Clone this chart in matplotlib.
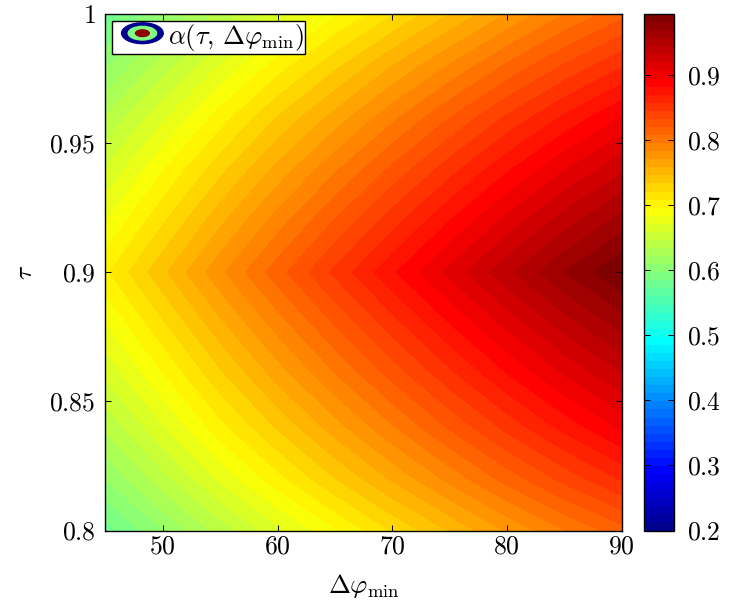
import numpy as np
import matplotlib
matplotlib.use("Agg")
import matplotlib.pyplot as plt
from matplotlib.colors import LinearSegmentedColormap
from matplotlib.patches import Ellipse, Patch

plt.rcParams["mathtext.fontset"] = "cm"
plt.rcParams["font.family"] = "serif"
plt.rcParams["font.serif"] = ["cmr10"]
plt.rcParams["axes.formatter.use_mathtext"] = True

phi_min = [45, 50, 55, 60, 65, 70, 75, 80, 85, 90]
tau = [0.80, 0.82, 0.84, 0.86, 0.88, 0.90, 0.92, 0.94, 0.96, 0.98, 1.00]
alpha = [
    [.579, .609, .640, .668, .695, .722, .747, .772, .795, .815],
    [.610, .642, .674, .704, .733, .760, .787, .813, .837, .859],
    [.637, .670, .704, .735, .765, .794, .822, .849, .874, .897],
    [.661, .695, .730, .763, .794, .824, .853, .881, .907, .930],
    [.683, .719, .755, .789, .821, .852, .882, .911, .938, .962],
    [.706, .743, .780, .815, .848, .880, .911, .941, .969, .994],
    [.683, .719, .755, .789, .821, .852, .882, .911, .938, .962],
    [.660, .695, .729, .762, .793, .823, .852, .880, .906, .929],
    [.635, .669, .702, .734, .763, .792, .820, .847, .872, .895],
    [.608, .640, .672, .702, .730, .758, .784, .810, .834, .856],
    [.577, .607, .637, .666, .694, .720, .746, .771, .795, .816],
]
x_ticks = [50, 60, 70, 80, 90]
y_ticks = [0.8, 0.85, 0.9, 0.95, 1]
y_labels = ["0.8", "0.85", "0.9", "0.95", "1"]
cbar_ticks = [0.2, 0.3, 0.4, 0.5, 0.6, 0.7, 0.8, 0.9]

W, H = 729, 606
FS = 18.5

# matlab style jet, 64 steps
jet = LinearSegmentedColormap.from_list(
    "matlab_jet",
    [(0, (0, 0, 0.5625)), (0.11, (0, 0, 1)), (0.365, (0, 1, 1)),
     (0.625, (1, 1, 0)), (0.875, (1, 0, 0)), (1, (0.5, 0, 0))],
    N=64,
)


class ContourHandler:
    def legend_artist(self, legend, orig, fontsize, box):
        cx = box.xdescent + box.width / 2 + 3
        cy = box.ydescent + box.height / 2 + 1
        for w, h, c in [(31, 16, "#00008f"), (21.5, 10.8, "#80ff80"), (11, 5.8, "#8f0000")]:
            box.add_artist(Ellipse((cx, cy), w, h, fc=c, ec="none", transform=box.get_transform()))
        return Patch(visible=False)


fig = plt.figure(figsize=(W / 100, H / 100), dpi=100)
ax = fig.add_axes([105.5 / W, 1 - 530.5 / H, 516 / W, 516.5 / H])
cax = fig.add_axes([644 / W, 1 - 530.5 / H, 29.5 / W, 516.5 / H])

levels = np.linspace(0.2, 0.994, 65)
cs = ax.contourf(phi_min, tau, alpha, levels=levels, cmap=jet)

ax.set_xlim(45, 90)
ax.set_ylim(0.8, 1)
ax.set_xticks(x_ticks)
ax.set_xticklabels([f"${v}$" for v in x_ticks])
ax.set_yticks(y_ticks)
ax.set_yticklabels([f"${v}$" for v in y_labels])
ax.tick_params(direction="in", top=True, right=True, length=4.2, width=0.7, labelsize=FS)
ax.tick_params(axis="x", pad=3)
ax.tick_params(axis="y", pad=7)
ax.set_xlabel(r"$\Delta\varphi_{\min}$", fontsize=19, labelpad=10)
ax.set_ylabel(r"$\tau$", fontsize=FS, labelpad=9)

cb = fig.colorbar(cs, cax=cax)
cb.set_ticks(cbar_ticks)
cb.set_ticklabels([f"${v}$" for v in cbar_ticks])
cax.tick_params(direction="in", left=True, right=True, length=4.2, width=0.7, labelsize=FS, pad=9.5)
cb.outline.set_linewidth(1)

for s in ax.spines.values():
    s.set_linewidth(1)

ax.legend(
    [Patch()], [r"$\alpha(\tau,\,\Delta\varphi_{\min})\;$"],
    handler_map={Patch: ContourHandler()},
    loc="upper left", bbox_to_anchor=(7 / 516, 1 - 6.5 / 516.5), borderaxespad=0,
    fontsize=19, fancybox=False, framealpha=1, edgecolor="k",
    borderpad=0.05, handlelength=1.85, handletextpad=0.2,
).get_frame().set_linewidth(1)

fig.savefig("out.png", dpi=100)
